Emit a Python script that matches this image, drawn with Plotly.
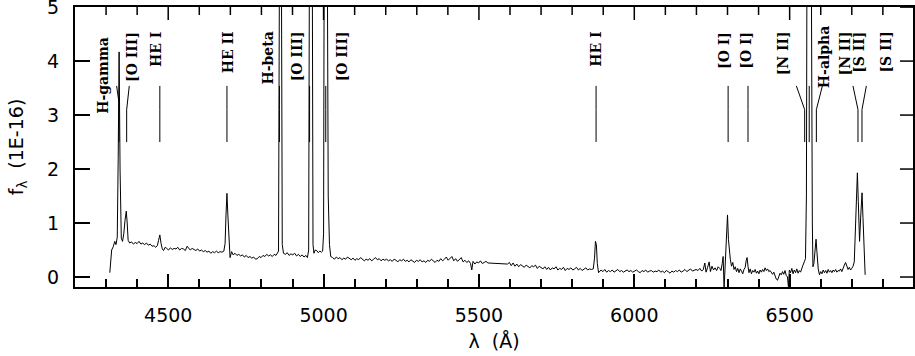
import plotly.graph_objects as go

# spectrum (wavelength in Angstrom, flux in 1E-16)
wave = [
    # H-gamma and [O III] 4363
    4312, 4318, 4323, 4328, 4332, 4336, 4339, 4342, 4345, 4349, 4353, 4357, 4361, 4365, 4368, 4371, 4376,
    # continuum and He I 4471
    4382, 4388, 4394, 4400, 4406, 4412, 4418, 4424, 4430, 4436, 4442, 4448, 4454, 4460, 4465, 4469, 4473,
    4477, 4481, 4485, 4490, 4495,
    # continuum and He II 4686
    4501, 4507, 4513, 4519, 4525, 4531, 4537, 4543, 4549, 4555, 4561, 4565, 4571, 4577, 4583, 4589, 4595,
    4601, 4607, 4613, 4619, 4625, 4631, 4637, 4643, 4649, 4655, 4661, 4667, 4673, 4679, 4683, 4686, 4689,
    4692, 4696, 4699, 4704,
    # continuum and H-beta
    4709, 4715, 4721, 4727, 4733, 4739, 4745, 4751, 4757, 4763, 4769, 4775, 4781, 4787, 4793, 4799, 4805,
    4811, 4817, 4823, 4829, 4835, 4841, 4847, 4852, 4855, 4857, 4859, 4861, 4863, 4865, 4867, 4871,
    # [O III] 4959, 5007
    4877, 4883, 4889, 4895, 4901, 4907, 4913, 4919, 4925, 4931, 4937, 4943, 4948, 4952, 4954, 4957, 4959,
    4961, 4964, 4966, 4969, 4973, 4978, 4983, 4988, 4993, 4997, 5000, 5002, 5004, 5007, 5010, 5012, 5015,
    5019, 5023,
    # continuum 5030-5200
    5029, 5035, 5041, 5047, 5053, 5059, 5065, 5071, 5077, 5083, 5089, 5095, 5101, 5107, 5113, 5119, 5125,
    5131, 5137, 5143, 5149, 5155, 5161, 5167, 5173, 5179, 5185, 5191, 5197,
    # continuum 5200-5460
    5203, 5209, 5215, 5221, 5227, 5233, 5239, 5245, 5251, 5257, 5263, 5269, 5275, 5281, 5287, 5293, 5299,
    5305, 5311, 5317, 5323, 5329, 5335, 5341, 5347, 5353, 5359, 5365, 5371, 5377, 5383, 5389, 5395, 5401,
    5407, 5413, 5419, 5425, 5431, 5437, 5443, 5449, 5455, 5461,
    # continuum 5460-5600
    5467, 5473, 5477, 5481, 5487, 5493, 5499, 5505, 5511, 5517, 5523, 5529, 5560, 5592, 5598,
    # continuum 5600-5870 and He I 5876
    5604, 5610, 5616, 5622, 5628, 5634, 5640, 5646, 5652, 5658, 5664, 5670, 5676, 5682, 5688, 5694, 5700,
    5706, 5712, 5718, 5724, 5730, 5736, 5742, 5748, 5754, 5760, 5766, 5772, 5778, 5784, 5790, 5796, 5802,
    5808, 5814, 5820, 5826, 5832, 5838, 5844, 5850, 5856, 5862, 5868, 5872, 5875, 5878, 5881, 5885, 5889,
    # continuum 5890-6200
    5893, 5899, 5905, 5911, 5917, 5923, 5929, 5935, 5941, 5947, 5953, 5959, 5965, 5971, 5977, 5983, 5989,
    5995, 6001, 6007, 6013, 6019, 6025, 6031, 6037, 6043, 6049, 6055, 6061, 6067, 6073, 6079, 6085, 6091,
    6097, 6103, 6109, 6115, 6121, 6127, 6133, 6139, 6145, 6151, 6157, 6163, 6169, 6175, 6181, 6187, 6193,
    6199,
    # [O I] 6300, 6363
    6205, 6211, 6217, 6222, 6227, 6231, 6236, 6241, 6245, 6250, 6255, 6260, 6265, 6270, 6275, 6279, 6283,
    6286, 6289, 6292, 6295, 6298, 6300, 6303, 6306, 6309, 6313, 6317, 6321, 6325, 6329, 6333, 6337, 6341,
    6345, 6349, 6353, 6357, 6360, 6363, 6366, 6369, 6373, 6377, 6381, 6385, 6389, 6393, 6397, 6401, 6405,
    6409, 6413, 6417, 6421, 6425, 6429, 6433, 6437, 6441, 6445, 6449, 6453, 6457, 6461, 6465, 6469, 6473,
    6477, 6481, 6485, 6489, 6493, 6496, 6499, 6503, 6507, 6511, 6515, 6519, 6523, 6527, 6531, 6535, 6539,
    # H-alpha, [N II]
    6543, 6547, 6551, 6554, 6556, 6559, 6563, 6567, 6570, 6573, 6575, 6578, 6582, 6585, 6588, 6592, 6596,
    6600, 6604, 6608, 6612, 6616, 6620, 6624, 6628, 6632, 6636, 6640, 6644, 6648, 6652, 6656, 6660, 6664,
    6668, 6672, 6676, 6680, 6684, 6688, 6692, 6696, 6700, 6704,
    # [S II]
    6708, 6712, 6715, 6718, 6721, 6725, 6729, 6733, 6736, 6739, 6743,
]
flux = [
    0.08, 0.50, 0.56, 0.66, 0.60, 0.74, 2.20, 4.17, 2.00, 0.72, 0.66, 0.80, 1.05, 1.22, 1.00, 0.68, 0.63,
    0.65, 0.61, 0.64, 0.62, 0.66, 0.61, 0.63, 0.60, 0.63, 0.59, 0.61, 0.57, 0.58, 0.55, 0.58, 0.68, 0.78,
    0.62, 0.52, 0.49, 0.55, 0.53,
    0.50, 0.54, 0.51, 0.53, 0.52, 0.55, 0.50, 0.53, 0.52, 0.49, 0.57, 0.54, 0.50, 0.53, 0.51, 0.49, 0.52,
    0.48, 0.50, 0.47, 0.49, 0.46, 0.48, 0.44, 0.47, 0.45, 0.48, 0.45, 0.47, 0.46, 0.48, 0.62, 1.15, 1.55,
    1.15, 0.50, 0.36, 0.47,
    0.41, 0.44, 0.40, 0.42, 0.39, 0.41, 0.37, 0.40, 0.36, 0.38, 0.35, 0.37, 0.33, 0.34, 0.38, 0.36, 0.40,
    0.38, 0.42, 0.39, 0.41, 0.38, 0.42, 0.40, 0.44, 0.48, 4.0, 8.0, 12.0, 8.0, 4.5, 0.60, 0.44,
    0.42, 0.45, 0.40, 0.43, 0.41, 0.44, 0.39, 0.42, 0.38, 0.41, 0.37, 0.40, 0.36, 0.50, 5.0, 12.0, 16.0,
    12.0, 5.5, 0.60, 0.44, 0.50, 0.49, 0.45, 0.48, 0.46, 0.48, 0.80, 6.0, 20.0, 45.0, 20.0, 6.0, 1.5,
    0.60, 0.38,
    0.36, 0.33, 0.37, 0.34, 0.36, 0.32, 0.35, 0.33, 0.37, 0.34, 0.32, 0.35, 0.31, 0.34, 0.32, 0.36, 0.33,
    0.30, 0.33, 0.31, 0.34, 0.30, 0.33, 0.36, 0.32, 0.34, 0.30, 0.33, 0.31,
    0.33, 0.30, 0.32, 0.29, 0.33, 0.31, 0.28, 0.32, 0.30, 0.33, 0.29, 0.31, 0.28, 0.32, 0.30, 0.27, 0.31,
    0.29, 0.32, 0.28, 0.30, 0.27, 0.31, 0.29, 0.33, 0.30, 0.27, 0.31, 0.29, 0.34, 0.30, 0.33, 0.37, 0.31,
    0.35, 0.38, 0.30, 0.34, 0.29, 0.33, 0.36, 0.28, 0.31, 0.27,
    0.30, 0.25, 0.13, 0.29, 0.24, 0.28, 0.26, 0.30, 0.25, 0.27, 0.29, 0.26, 0.25, 0.24, 0.27,
    0.21, 0.26, 0.20, 0.24, 0.19, 0.23, 0.21, 0.18, 0.22, 0.20, 0.17, 0.21, 0.19, 0.22, 0.16, 0.20, 0.18,
    0.15, 0.19, 0.14, 0.18, 0.13, 0.17, 0.15, 0.19, 0.13, 0.16, 0.14, 0.18, 0.12, 0.16, 0.14, 0.17, 0.13,
    0.15, 0.18, 0.13, 0.16, 0.12, 0.15, 0.17, 0.13, 0.15, 0.14, 0.15, 0.35, 0.66, 0.60, 0.25, 0.08, 0.11,
    0.13, 0.10, 0.14, 0.09, 0.12, 0.10, 0.13, 0.09, 0.12, 0.14, 0.10, 0.12, 0.09, 0.11, 0.13, 0.10, 0.12,
    0.09, 0.11, 0.13, 0.10, 0.08, 0.12, 0.10, 0.13, 0.09, 0.11, 0.12, 0.09, 0.11, 0.10, 0.13, 0.09, 0.11,
    0.08, 0.12, 0.10, 0.07, 0.11, 0.09, 0.12, 0.10, 0.13, 0.09, 0.11, 0.14, 0.10, 0.12, 0.15, 0.11, 0.13,
    0.14,
    0.12, 0.16, 0.11, 0.14, 0.26, 0.09, 0.18, 0.28, 0.10, 0.20, 0.13, 0.17, 0.12, 0.19, 0.16, 0.12, 0.25,
    0.38, -0.22, 0.20, 0.45, 0.90, 1.15, 0.70, 0.41, 0.33, 0.20, 0.27, 0.14, 0.19, 0.10, 0.16, 0.08, 0.15,
    0.11, 0.06, 0.14, 0.18, 0.30, 0.36, 0.20, 0.08, 0.15, 0.06, 0.12, 0.09, 0.14, 0.07, 0.11, 0.06, 0.13,
    0.09, 0.14, 0.10, 0.17, 0.12, 0.15, 0.10, 0.12, 0.07, 0.05, 0.09, 0.01, -0.04, -0.06, 0.02, 0.07, 0.04,
    0.10, 0.05, 0.12, 0.03, 0.00, -0.18, 0.13, 0.08, 0.16, 0.06, 0.13, 0.08, 0.15, 0.07, 0.12, 0.09, 0.17,
    0.22, 0.28, 0.34, 1.5, 5.5, 14.0, 30.0, 14.0, 5.5, 1.0, 0.19, 0.25, 0.55, 0.70, 0.45, 0.15, 0.04,
    0.10, 0.06, 0.13, 0.08, 0.12, 0.07, 0.14, 0.09, 0.12, 0.08, 0.13, 0.10, 0.14, 0.09, 0.12, 0.11, 0.15,
    0.10, 0.18, 0.22, 0.27, 0.20, 0.14, 0.18, 0.13, 0.16, 0.20,
    0.28, 0.95, 1.60, 1.93, 1.40, 0.66, 1.15, 1.56, 1.10, 0.50, 0.04,
]

# line identifications: label text, label centre, top of label
label_text = ["H-gamma", "[O III]", "HE I", "HE II", "H-beta", "[O III]", "[O III]", "HE I",
              "[O I]", "[O I]", "[N II]", "H-alpha", "[N II]", "[S II]", "[S II]"]
label_wave = [4289, 4384, 4463, 4691, 4822, 4913, 5058, 5878, 6291, 6361, 6477, 6613, 6677, 6725, 6811]
label_top = [4.49, 4.58, 4.58, 4.58, 4.58, 4.58, 4.58, 4.58, 4.58, 4.58, 4.58, 4.68, 4.58, 4.58, 4.58]

# identification ticks: position on the line, position of the upper end, height of the bend
tick_wave = [4341.5, 4366.3, 4473, 4689, 4858, 4955, 5007, 5877, 6302, 6366, 6548.4, 6563, 6586, 6719.9, 6732.8]
tick_top_wave = [4334, 4374.7, 4473, 4689, 4858, 4955, 5007, 5877, 6302, 6366, 6521.6, 6563, 6605.3, 6703.8, 6746.9]
tick_bend = [3.23, 3.10, 3.10, 3.10, 3.10, 3.10, 3.10, 3.10, 3.10, 3.10, 3.10, 3.10, 3.10, 3.10, 3.10]
tick_low, tick_high = 2.50, 3.54

x_range = [4200, 6897]
y_range = [-0.185, 5.002]
x_major = [4500, 5000, 5500, 6000, 6500]
x_minor = [v for v in range(4300, 6900, 100) if v not in x_major]
y_major = [0, 1, 2, 3, 4, 5]

W, H = 915, 356
M = dict(l=75, r=2, t=7, b=69)
# data units per screen pixel, to give the top/right ticks a fixed pixel length
x_per_px = (x_range[1] - x_range[0]) / (W - M["l"] - M["r"])
y_per_px = (y_range[1] - y_range[0]) / (H - M["t"] - M["b"])

fig = go.Figure()
fig.add_trace(go.Scatter(x=wave, y=flux, mode="lines",
                         line=dict(color="black", width=1), hoverinfo="skip"))

for tw, ttw, tb in zip(tick_wave, tick_top_wave, tick_bend):
    fig.add_shape(type="line", xref="x", yref="y", x0=tw, y0=tick_low, x1=tw, y1=tb,
                  line=dict(color="black", width=1))
    fig.add_shape(type="line", xref="x", yref="y", x0=tw, y0=tb, x1=ttw, y1=tick_high,
                  line=dict(color="black", width=1))

for txt, lw, lt in zip(label_text, label_wave, label_top):
    fig.add_annotation(x=lw, y=lt, xref="x", yref="y", text="<b>" + txt + "</b>",
                       textangle=-90, showarrow=False, xanchor="center", yanchor="top",
                       font=dict(family="DejaVu Serif", size=14, color="black"))

# mirrored ticks on the top and right frame
tick_line = dict(color="black", width=1.5)
for v in x_major + x_minor:
    ln = 13 if v in x_major else 8
    fig.add_shape(type="line", xref="x", yref="y", x0=v, x1=v,
                  y0=y_range[1], y1=y_range[1] - ln * y_per_px, line=tick_line)
for v in y_major:
    fig.add_shape(type="line", xref="x", yref="y", y0=v, y1=v,
                  x0=x_range[1], x1=x_range[1] - 13 * x_per_px, line=tick_line)

axis_font = dict(family="DejaVu Sans", size=19, color="black")
fig.update_xaxes(range=x_range, tickvals=x_major,
                 ticks="inside", ticklen=13, tickwidth=1.5, tickcolor="black",
                 minor=dict(tickvals=x_minor, ticks="inside", ticklen=8, tickwidth=1.5, tickcolor="black"),
                 showline=True, linecolor="black", linewidth=2, mirror=True,
                 showgrid=False, zeroline=False, automargin=False,
                 tickfont=axis_font, ticklabelstandoff=10,
                 title=dict(text="λ  (Å)", font=axis_font, standoff=10))
fig.update_yaxes(range=y_range, tickvals=y_major,
                 ticks="inside", ticklen=15, tickwidth=1.5, tickcolor="black",
                 showline=True, linecolor="black", linewidth=2, mirror=True,
                 showgrid=False, zeroline=False, automargin=False,
                 tickfont=axis_font, ticklabelstandoff=10, ticklabeloverflow="allow",
                 title=dict(text="f<sub>λ</sub>  (1E-16)", font=axis_font, standoff=18))
fig.update_layout(width=W, height=H, margin=M,
                  plot_bgcolor="white", paper_bgcolor="white", showlegend=False)

# the page's default body margin would push the figure 8px down and right
fig.write_html("out.html", config={"displayModeBar": False},
               post_script="document.body.style.margin='0px';")
